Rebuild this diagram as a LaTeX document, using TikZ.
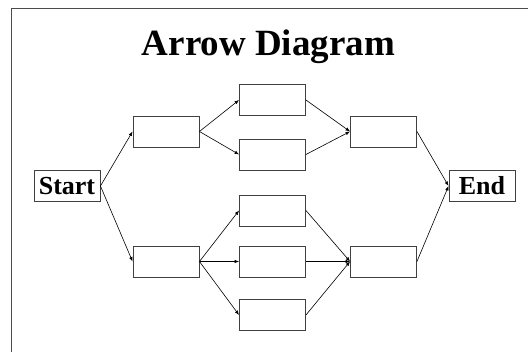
\documentclass[tikz,border=0pt]{standalone}
\usepackage{fontspec}
\setmainfont{Liberation Serif}
\usetikzlibrary{arrows.meta}
\begin{document}
\begin{tikzpicture}[x=1pt,y=-1pt,
        box/.style={draw=black!75,line width=0.9pt,minimum width=66pt,minimum height=31pt,inner sep=0pt},
        endbox/.style={box,font=\bfseries\fontsize{26}{26}\selectfont},
        link/.style={-{Latex[length=4.5pt,width=3.5pt]},line width=0.6pt}]
        \useasboundingbox (0,0) rectangle (528,352);
        \draw[line width=1.5pt,black!70] (528,8.5) -- (11.5,8.5) -- (11.5,352);
        \node (title) at (268.5,47) {\bfseries\fontsize{37}{37}\selectfont Arrow Diagram};

        \node[endbox] (S) at (67,186) {Start};
        \node[box] (A) at (166,131.5) {};
        \node[box] (B) at (166,261.5) {};

        \node[box] (A1) at (272.5,100) {};
        \node[box] (A2) at (272.5,154.5) {};
        \node[box] (B1) at (272.5,210.5) {};
        \node[box] (B2) at (272.5,261.5) {};
        \node[box] (B3) at (272.5,315) {};

        \node[box] (C) at (383.5,131.5) {};
        \node[box] (D) at (383.5,261.5) {};
        \node[endbox] (E) at (482,186) {End};

        \draw[link] (S.east) -- (A.west) ;
        \draw[link] (S.east) -- (B.west) ;
        \draw[link] (A.east) -- (A1.west) ;
        \draw[link] (A.east) -- (A2.west) ;
        \draw[link] (B.east) -- (B1.west) ;
        \draw[link] (B.east) -- (B2.west) ;
        \draw[link] (B.east) -- (B3.west) ;
        \draw[link] (A1.east) -- (C.west) ;
        \draw[link] (A2.east) -- (C.west) ;
        \draw[link] (B1.east) -- (D.west) ;
        \draw[link] (B2.east) -- (D.west) ;
        \draw[link] (B3.east) -- (D.west) ;
        \draw[link] (C.east) -- (E.west) ;
        \draw[link] (D.east) -- (E.west) ;
\end{tikzpicture}
\end{document}
